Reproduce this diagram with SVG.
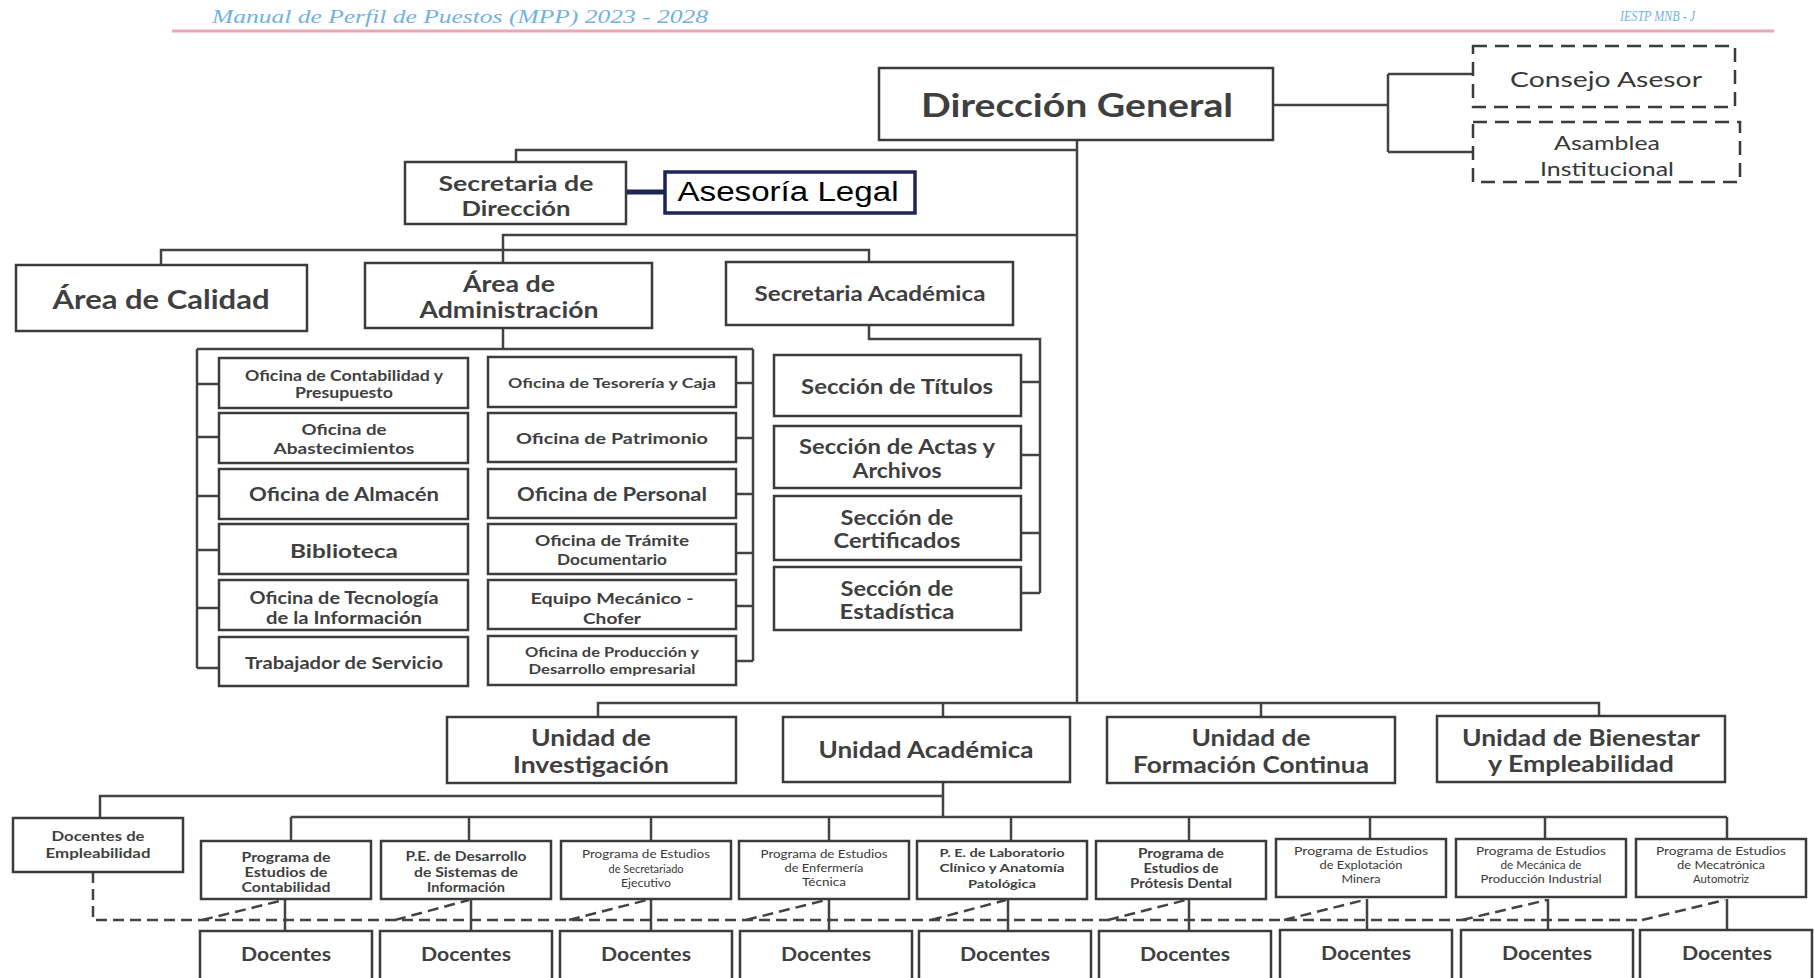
<svg xmlns="http://www.w3.org/2000/svg" width="1814" height="978" viewBox="0 0 1814 978">
<style>
.box{fill:#fff;stroke:#3b3b3b;stroke-width:2.5}
.dbox{fill:#fff;stroke:#3b3b3b;stroke-width:2.5;stroke-dasharray:14 8}
.ln{fill:none;stroke:#434343;stroke-width:2.5}
.dl{fill:none;stroke:#434343;stroke-width:2.5;stroke-dasharray:11 6}
.t{font-family:Lato,"Open Sans",sans-serif;font-weight:700;fill:#3f3f3f;text-anchor:middle;dominant-baseline:central}
.r{font-weight:400;fill:#383838}
.hd{font-family:"Liberation Serif",serif;font-style:italic;fill:#72b2df;dominant-baseline:central}
</style>
<g id="header">
<text class="hd" x="212" y="17" font-size="18" textLength="496" lengthAdjust="spacingAndGlyphs">Manual de Perfil de Puestos (MPP) 2023 - 2028</text>
<text class="hd" x="1620" y="16" font-size="14" textLength="75" lengthAdjust="spacingAndGlyphs">IESTP MNB - J</text>
<line x1="172" y1="31" x2="1774" y2="31" stroke="#e9a6b6" stroke-width="3"/>
</g>
<g id="connectors">
<path class="ln" d="M1077 140V703"/>
<path class="ln" d="M1273 105H1388M1388 74V152M1388 74H1473M1388 152H1473"/>
<path class="ln" d="M1077 150H516V162"/>
<path d="M626 192H665" stroke="#1c2556" stroke-width="5"/>
<path class="ln" d="M1077 235H503V263"/>
<path class="ln" d="M161 265V250H869V262"/>
<path class="ln" d="M503 328V349M197 349H753M197 349V668M753 349V661"/>
<path class="ln" d="M197 384H219M197 437H219M197 496H219M197 550H219M197 608H219M197 668H219"/>
<path class="ln" d="M736 383H753M736 438H753M736 494H753M736 553H753M736 606H753M736 661H753"/>
<path class="ln" d="M869 325V339H1040V593"/>
<path class="ln" d="M1021 382H1040M1021 455H1040M1021 533H1040M1021 593H1040"/>
<path class="ln" d="M598 717V703H1599V717M943 703V717M1261 703V717"/>
<path class="ln" d="M943 782V817M100 818V796H943M291 817H1727"/>
<path class="ln" d="M291 817V841M469 817V841M651 817V841M829 817V841M1011 817V841M1189 817V841M1370 817V841M1545 817V841M1727 817V841"/>
<path class="ln" d="M285 899V931M471 899V931M651 899V931M829 899V931M1008 899V931M1189 899V931M1367 899V931M1548 899V931M1727 899V931"/>
<path class="dl" d="M93 872V920H1642"/>
<path class="dl" d="M202 920L280 901M395 920L469 900M569 920L647 900M746 920L826 900M931 920L1006 900M1108 920L1186 900M1284 920L1364 900M1462 920L1547 900M1642 920L1725 900"/>
</g>
<g id="n-direccion-general"><rect class="box" x="879" y="68" width="394" height="72"/><text class="t" x="1077" y="104" font-size="33" textLength="312" lengthAdjust="spacingAndGlyphs">Dirección General</text></g>
<g id="n-consejo-asesor"><rect class="dbox" x="1473" y="46" width="262" height="61"/><text class="t r" x="1606" y="78" font-size="22" textLength="192" lengthAdjust="spacingAndGlyphs">Consejo Asesor</text></g>
<g id="n-asamblea"><rect class="dbox" x="1473" y="122" width="267" height="60"/><text class="t r" x="1607" y="142" font-size="19" textLength="106" lengthAdjust="spacingAndGlyphs">Asamblea</text><text class="t r" x="1607" y="168" font-size="19" textLength="134" lengthAdjust="spacingAndGlyphs">Institucional</text></g>
<g id="n-secretaria-direccion"><rect class="box" x="405" y="162" width="221" height="62"/><text class="t" x="516" y="183" font-size="20" textLength="155" lengthAdjust="spacingAndGlyphs">Secretaria de</text><text class="t" x="516" y="208" font-size="20" textLength="109" lengthAdjust="spacingAndGlyphs">Dirección</text></g>
<g id="n-asesoria-legal"><rect x="665" y="172" width="250" height="41" fill="#fff" stroke="#1c2556" stroke-width="3.5"/><text x="788" y="192" font-family="'Liberation Sans',Arial,sans-serif" font-size="27" fill="#000" text-anchor="middle" dominant-baseline="central" textLength="221" lengthAdjust="spacingAndGlyphs">Asesoría Legal</text></g>
<g id="n-area-calidad"><rect class="box" x="16" y="265" width="291" height="66"/><text class="t" x="161" y="298" font-size="27" textLength="217" lengthAdjust="spacingAndGlyphs">Área de Calidad</text></g>
<g id="n-area-administracion"><rect class="box" x="365" y="263" width="287" height="65"/><text class="t" x="509" y="283" font-size="22" textLength="92" lengthAdjust="spacingAndGlyphs">Área de</text><text class="t" x="509" y="309" font-size="22" textLength="179" lengthAdjust="spacingAndGlyphs">Administración</text></g>
<g id="n-secretaria-academica"><rect class="box" x="726" y="262" width="287" height="63"/><text class="t" x="870" y="293" font-size="20" textLength="231" lengthAdjust="spacingAndGlyphs">Secretaria Académica</text></g>
<g id="n-contabilidad"><rect class="box" x="219" y="358" width="249" height="50"/><text class="t" x="344" y="375" font-size="14.5" textLength="198" lengthAdjust="spacingAndGlyphs">Oficina de Contabilidad y</text><text class="t" x="344" y="392" font-size="14.5" textLength="98" lengthAdjust="spacingAndGlyphs">Presupuesto</text></g>
<g id="n-abastecimientos"><rect class="box" x="219" y="413" width="249" height="50"/><text class="t" x="344" y="429" font-size="15" textLength="85" lengthAdjust="spacingAndGlyphs">Oficina de</text><text class="t" x="344" y="448" font-size="15" textLength="141" lengthAdjust="spacingAndGlyphs">Abastecimientos</text></g>
<g id="n-almacen"><rect class="box" x="219" y="469" width="249" height="50"/><text class="t" x="344" y="494" font-size="18" textLength="190" lengthAdjust="spacingAndGlyphs">Oficina de Almacén</text></g>
<g id="n-biblioteca"><rect class="box" x="219" y="524" width="249" height="50"/><text class="t" x="344" y="550" font-size="19" textLength="108" lengthAdjust="spacingAndGlyphs">Biblioteca</text></g>
<g id="n-tecnologia"><rect class="box" x="219" y="580" width="249" height="50"/><text class="t" x="344" y="598" font-size="16.5" textLength="189" lengthAdjust="spacingAndGlyphs">Oficina de Tecnología</text><text class="t" x="344" y="618" font-size="16.5" textLength="156" lengthAdjust="spacingAndGlyphs">de la Información</text></g>
<g id="n-trabajador"><rect class="box" x="219" y="637" width="249" height="49"/><text class="t" x="344" y="662" font-size="17" textLength="198" lengthAdjust="spacingAndGlyphs">Trabajador de Servicio</text></g>
<g id="n-tesoreria"><rect class="box" x="488" y="357" width="248" height="50"/><text class="t" x="612" y="382" font-size="14" textLength="208" lengthAdjust="spacingAndGlyphs">Oficina de Tesorería y Caja</text></g>
<g id="n-patrimonio"><rect class="box" x="488" y="413" width="248" height="49"/><text class="t" x="612" y="437" font-size="16" textLength="192" lengthAdjust="spacingAndGlyphs">Oficina de Patrimonio</text></g>
<g id="n-personal"><rect class="box" x="488" y="469" width="248" height="49"/><text class="t" x="612" y="494" font-size="18" textLength="190" lengthAdjust="spacingAndGlyphs">Oficina de Personal</text></g>
<g id="n-tramite"><rect class="box" x="488" y="524" width="248" height="50"/><text class="t" x="612" y="540" font-size="15" textLength="154" lengthAdjust="spacingAndGlyphs">Oficina de Trámite</text><text class="t" x="612" y="559" font-size="15" textLength="110" lengthAdjust="spacingAndGlyphs">Documentario</text></g>
<g id="n-equipo"><rect class="box" x="488" y="580" width="248" height="49"/><text class="t" x="612" y="597" font-size="16" textLength="163" lengthAdjust="spacingAndGlyphs">Equipo Mecánico -</text><text class="t" x="612" y="617" font-size="16" textLength="58" lengthAdjust="spacingAndGlyphs">Chofer</text></g>
<g id="n-produccion"><rect class="box" x="488" y="636" width="248" height="49"/><text class="t" x="612" y="652" font-size="13.5" textLength="174" lengthAdjust="spacingAndGlyphs">Oficina de Producción y</text><text class="t" x="612" y="669" font-size="13.5" textLength="167" lengthAdjust="spacingAndGlyphs">Desarrollo empresarial</text></g>
<g id="n-titulos"><rect class="box" x="774" y="355" width="247" height="61"/><text class="t" x="897" y="385" font-size="21" textLength="192" lengthAdjust="spacingAndGlyphs">Sección de Títulos</text></g>
<g id="n-actas"><rect class="box" x="774" y="426" width="247" height="62"/><text class="t" x="897" y="445" font-size="21" textLength="196" lengthAdjust="spacingAndGlyphs">Sección de Actas y</text><text class="t" x="897" y="469" font-size="21" textLength="89" lengthAdjust="spacingAndGlyphs">Archivos</text></g>
<g id="n-certificados"><rect class="box" x="774" y="496" width="247" height="64"/><text class="t" x="897" y="516" font-size="21" textLength="113" lengthAdjust="spacingAndGlyphs">Sección de</text><text class="t" x="897" y="539" font-size="21" textLength="127" lengthAdjust="spacingAndGlyphs">Certificados</text></g>
<g id="n-estadistica"><rect class="box" x="774" y="567" width="247" height="63"/><text class="t" x="897" y="587" font-size="21" textLength="113" lengthAdjust="spacingAndGlyphs">Sección de</text><text class="t" x="897" y="610" font-size="21" textLength="115" lengthAdjust="spacingAndGlyphs">Estadística</text></g>
<g id="n-unidad-investigacion"><rect class="box" x="447" y="717" width="289" height="66"/><text class="t" x="591" y="737" font-size="22" textLength="120" lengthAdjust="spacingAndGlyphs">Unidad de</text><text class="t" x="591" y="764" font-size="22" textLength="156" lengthAdjust="spacingAndGlyphs">Investigación</text></g>
<g id="n-unidad-academica"><rect class="box" x="783" y="717" width="287" height="65"/><text class="t" x="926" y="749" font-size="22" textLength="215" lengthAdjust="spacingAndGlyphs">Unidad Académica</text></g>
<g id="n-unidad-formacion"><rect class="box" x="1107" y="717" width="288" height="66"/><text class="t" x="1251" y="737" font-size="22" textLength="119" lengthAdjust="spacingAndGlyphs">Unidad de</text><text class="t" x="1251" y="764" font-size="22" textLength="236" lengthAdjust="spacingAndGlyphs">Formación Continua</text></g>
<g id="n-unidad-bienestar"><rect class="box" x="1437" y="716" width="288" height="66"/><text class="t" x="1581" y="737" font-size="22" textLength="238" lengthAdjust="spacingAndGlyphs">Unidad de Bienestar</text><text class="t" x="1581" y="763" font-size="22" textLength="186" lengthAdjust="spacingAndGlyphs">y Empleabilidad</text></g>
<g id="n-docentes-empleabilidad"><rect class="box" x="13" y="818" width="170" height="54"/><text class="t" x="98" y="836" font-size="13" textLength="93" lengthAdjust="spacingAndGlyphs">Docentes de</text><text class="t" x="98" y="853" font-size="13" textLength="105" lengthAdjust="spacingAndGlyphs">Empleabilidad</text></g>
<g id="n-p1"><rect class="box" x="201" y="841" width="170" height="58"/><text class="t" x="286" y="857" font-size="12.5" textLength="89" lengthAdjust="spacingAndGlyphs">Programa de</text><text class="t" x="286" y="872" font-size="12.5" textLength="83" lengthAdjust="spacingAndGlyphs">Estudios de</text><text class="t" x="286" y="887" font-size="12.5" textLength="89" lengthAdjust="spacingAndGlyphs">Contabilidad</text></g>
<g id="n-p2"><rect class="box" x="381" y="841" width="170" height="58"/><text class="t" x="466" y="856" font-size="12.5" textLength="121" lengthAdjust="spacingAndGlyphs">P.E. de Desarrollo</text><text class="t" x="466" y="872" font-size="12.5" textLength="104" lengthAdjust="spacingAndGlyphs">de Sistemas de</text><text class="t" x="466" y="887" font-size="12.5" textLength="78" lengthAdjust="spacingAndGlyphs">Información</text></g>
<g id="n-p3"><rect class="box" x="561" y="841" width="170" height="58"/><text class="t r" x="646" y="853" font-size="11" textLength="128" lengthAdjust="spacingAndGlyphs">Programa de Estudios</text><text class="t r" x="646" y="868" font-size="11" textLength="75" lengthAdjust="spacingAndGlyphs">de Secretariado</text><text class="t r" x="646" y="882" font-size="11" textLength="50" lengthAdjust="spacingAndGlyphs">Ejecutivo</text></g>
<g id="n-p4"><rect class="box" x="739" y="841" width="170" height="58"/><text class="t r" x="824" y="853" font-size="11" textLength="127" lengthAdjust="spacingAndGlyphs">Programa de Estudios</text><text class="t r" x="824" y="867" font-size="11" textLength="79" lengthAdjust="spacingAndGlyphs">de Enfermería</text><text class="t r" x="824" y="881" font-size="11" textLength="44" lengthAdjust="spacingAndGlyphs">Técnica</text></g>
<g id="n-p5"><rect class="box" x="917" y="841" width="170" height="58"/><text class="t" x="1002" y="852" font-size="12" textLength="125" lengthAdjust="spacingAndGlyphs">P. E. de Laboratorio</text><text class="t" x="1002" y="867" font-size="12" textLength="125" lengthAdjust="spacingAndGlyphs">Clínico y Anatomía</text><text class="t" x="1002" y="883" font-size="12" textLength="68" lengthAdjust="spacingAndGlyphs">Patológica</text></g>
<g id="n-p6"><rect class="box" x="1096" y="841" width="170" height="58"/><text class="t" x="1181" y="853" font-size="12.5" textLength="86" lengthAdjust="spacingAndGlyphs">Programa de</text><text class="t" x="1181" y="868" font-size="12.5" textLength="75" lengthAdjust="spacingAndGlyphs">Estudios de</text><text class="t" x="1181" y="883" font-size="12.5" textLength="102" lengthAdjust="spacingAndGlyphs">Prótesis Dental</text></g>
<g id="n-p7"><rect class="box" x="1276" y="839" width="170" height="58"/><text class="t r" x="1361" y="850" font-size="11" textLength="134" lengthAdjust="spacingAndGlyphs">Programa de Estudios</text><text class="t r" x="1361" y="864" font-size="11" textLength="83" lengthAdjust="spacingAndGlyphs">de Explotación</text><text class="t r" x="1361" y="878" font-size="11" textLength="39" lengthAdjust="spacingAndGlyphs">Minera</text></g>
<g id="n-p8"><rect class="box" x="1456" y="839" width="170" height="58"/><text class="t r" x="1541" y="850" font-size="11" textLength="130" lengthAdjust="spacingAndGlyphs">Programa de Estudios</text><text class="t r" x="1541" y="864" font-size="11" textLength="81" lengthAdjust="spacingAndGlyphs">de Mecánica de</text><text class="t r" x="1541" y="878" font-size="11" textLength="121" lengthAdjust="spacingAndGlyphs">Producción Industrial</text></g>
<g id="n-p9"><rect class="box" x="1636" y="839" width="170" height="58"/><text class="t r" x="1721" y="850" font-size="11" textLength="130" lengthAdjust="spacingAndGlyphs">Programa de Estudios</text><text class="t r" x="1721" y="864" font-size="11" textLength="88" lengthAdjust="spacingAndGlyphs">de Mecatrónica</text><text class="t r" x="1721" y="878" font-size="11" textLength="56" lengthAdjust="spacingAndGlyphs">Automotriz</text></g>
<g id="n-d1"><rect class="box" x="200" y="931" width="172" height="56"/><text class="t" x="286" y="954" font-size="18" textLength="90" lengthAdjust="spacingAndGlyphs">Docentes</text></g>
<g id="n-d2"><rect class="box" x="380" y="931" width="172" height="56"/><text class="t" x="466" y="954" font-size="18" textLength="90" lengthAdjust="spacingAndGlyphs">Docentes</text></g>
<g id="n-d3"><rect class="box" x="560" y="931" width="172" height="56"/><text class="t" x="646" y="954" font-size="18" textLength="90" lengthAdjust="spacingAndGlyphs">Docentes</text></g>
<g id="n-d4"><rect class="box" x="740" y="931" width="172" height="56"/><text class="t" x="826" y="954" font-size="18" textLength="90" lengthAdjust="spacingAndGlyphs">Docentes</text></g>
<g id="n-d5"><rect class="box" x="919" y="931" width="172" height="56"/><text class="t" x="1005" y="954" font-size="18" textLength="90" lengthAdjust="spacingAndGlyphs">Docentes</text></g>
<g id="n-d6"><rect class="box" x="1099" y="931" width="172" height="56"/><text class="t" x="1185" y="954" font-size="18" textLength="90" lengthAdjust="spacingAndGlyphs">Docentes</text></g>
<g id="n-d7"><rect class="box" x="1280" y="930" width="172" height="56"/><text class="t" x="1366" y="953" font-size="18" textLength="90" lengthAdjust="spacingAndGlyphs">Docentes</text></g>
<g id="n-d8"><rect class="box" x="1461" y="930" width="172" height="56"/><text class="t" x="1547" y="953" font-size="18" textLength="90" lengthAdjust="spacingAndGlyphs">Docentes</text></g>
<g id="n-d9"><rect class="box" x="1640" y="930" width="172" height="56"/><text class="t" x="1727" y="953" font-size="18" textLength="90" lengthAdjust="spacingAndGlyphs">Docentes</text></g>
</svg>
